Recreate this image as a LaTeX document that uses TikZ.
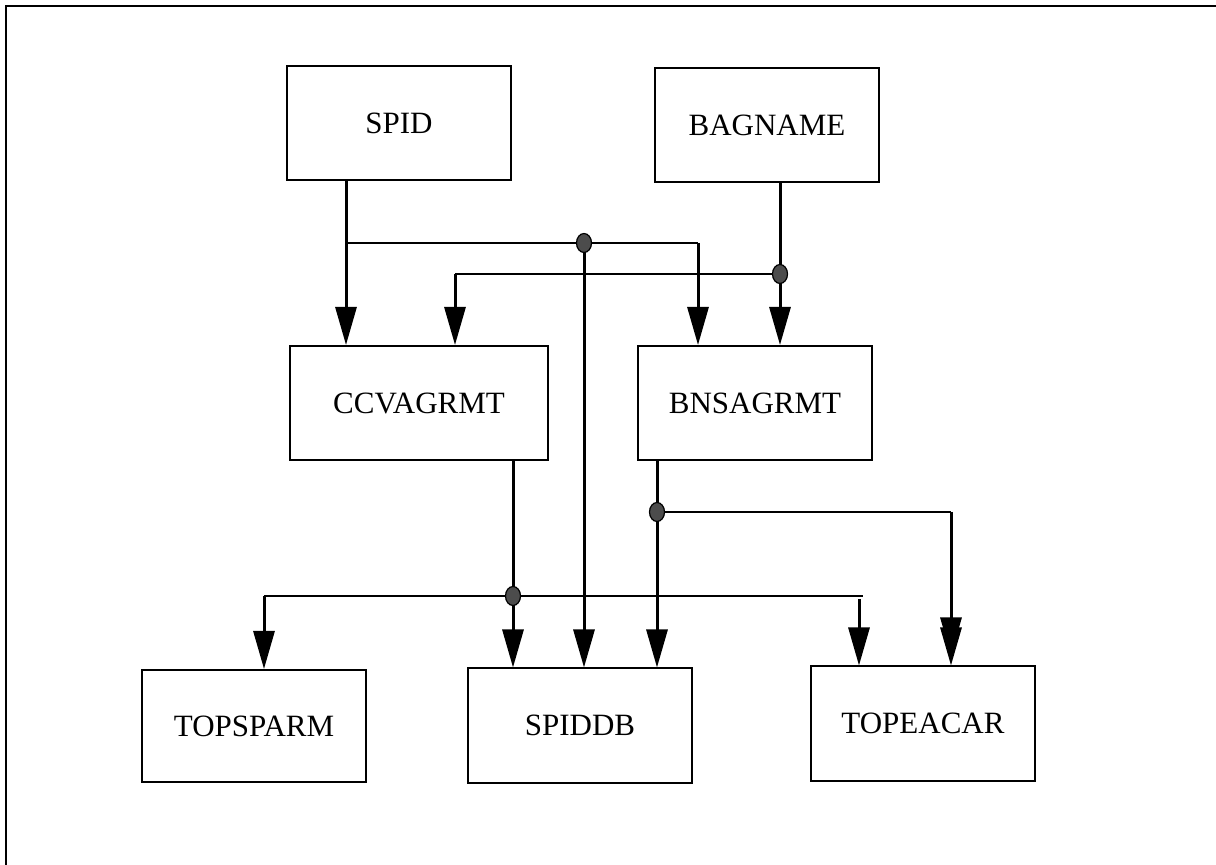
\documentclass[tikz,border=0pt]{standalone}
\usepackage{fontspec}
\setmainfont{Liberation Serif}
\usetikzlibrary{arrows.meta,positioning,calc,shapes.geometric}

\begin{document}
\begin{tikzpicture}[x=0.5pt,y=-0.5pt,
  box/.style={draw,line width=1pt,inner sep=0pt,minimum width=112pt,minimum height=57pt,font=\fontsize{15.5}{18}\selectfont},
  feed/.style={line width=1.5pt,-{Triangle[length=19pt,width=10.5pt]}},
  feedtwo/.style={line width=1.5pt,-{Triangle[length=19pt,width=10.5pt,sep=-14pt]Triangle[length=19pt,width=10.5pt]}},
  tap/.style={line width=0.9pt},
  dot/.style={ellipse,draw,line width=0.6pt,fill=black!70,inner sep=0pt,minimum width=7.5pt,minimum height=9.5pt}]
  \useasboundingbox (0,0) rectangle (1216,865);
  \draw[line width=1pt] (6,865)--(6,6)--(1216,6);
  % tables
  \node[box] (spid) at (399,123) {SPID};
  \node[box] (bagname) at (767,125) {BAGNAME};
  \node[box,minimum width=129pt] (ccvagrmt) at (419,403) {CCVAGRMT};
  \node[box,minimum width=117pt] (bnsagrmt) at (755,403) {BNSAGRMT};
  \node[box,minimum height=56pt] (topsparm) at (254,726) {TOPSPARM};
  \node[box] (spiddb) at (580,725.5) {SPIDDB};
  \node[box] (topeacar) at (923,723.5) {TOPEACAR};
  % branch points
  \coordinate (sj) at (346,243);
  \coordinate (sd) at (584,243);
  \coordinate (se) at (698,243);
  \coordinate (bd) at (780,274);
  \coordinate (bw) at (455,274);
  \coordinate (cd) at (513,596);
  \coordinate (cw) at (264,596);
  \coordinate (ce) at (863,596);
  \coordinate (cf) at (859,599);
  \coordinate (nd) at (657,512);
  \coordinate (ne) at (951,512);
  % SPID
  \draw[feed] (spid.south -| sj) -- (ccvagrmt.north -| sj);
  \draw[tap] (sj) -- (se);
  \draw[feed] (se) -- (bnsagrmt.north -| se);
  \draw[feed] (sd) -- (spiddb.north -| sd);
  % BAGNAME
  \draw[feed] (bagname.south -| bd) -- (bnsagrmt.north -| bd);
  \draw[tap] (bd) -- (bw);
  \draw[feed] (bw) -- (ccvagrmt.north -| bw);
  % CCVAGRMT
  \draw[feed] (ccvagrmt.south -| cd) -- (spiddb.north -| cd);
  \draw[tap] (cw) -- (ce);
  \draw[feed] (cw) -- (topsparm.north -| cw);
  \draw[feed] (cf) -- (topeacar.north -| cf);
  % BNSAGRMT
  \draw[feed] (bnsagrmt.south -| nd) -- (spiddb.north -| nd);
  \draw[tap] (nd) -- (ne);
  \draw[feedtwo] (ne) -- (topeacar.north -| ne);
  % joints
  \node[dot] (sdot) at (sd) {};
  \node[dot] (bdot) at (bd) {};
  \node[dot] (cdot) at (cd) {};
  \node[dot] (ndot) at (nd) {};
\end{tikzpicture}
\end{document}
